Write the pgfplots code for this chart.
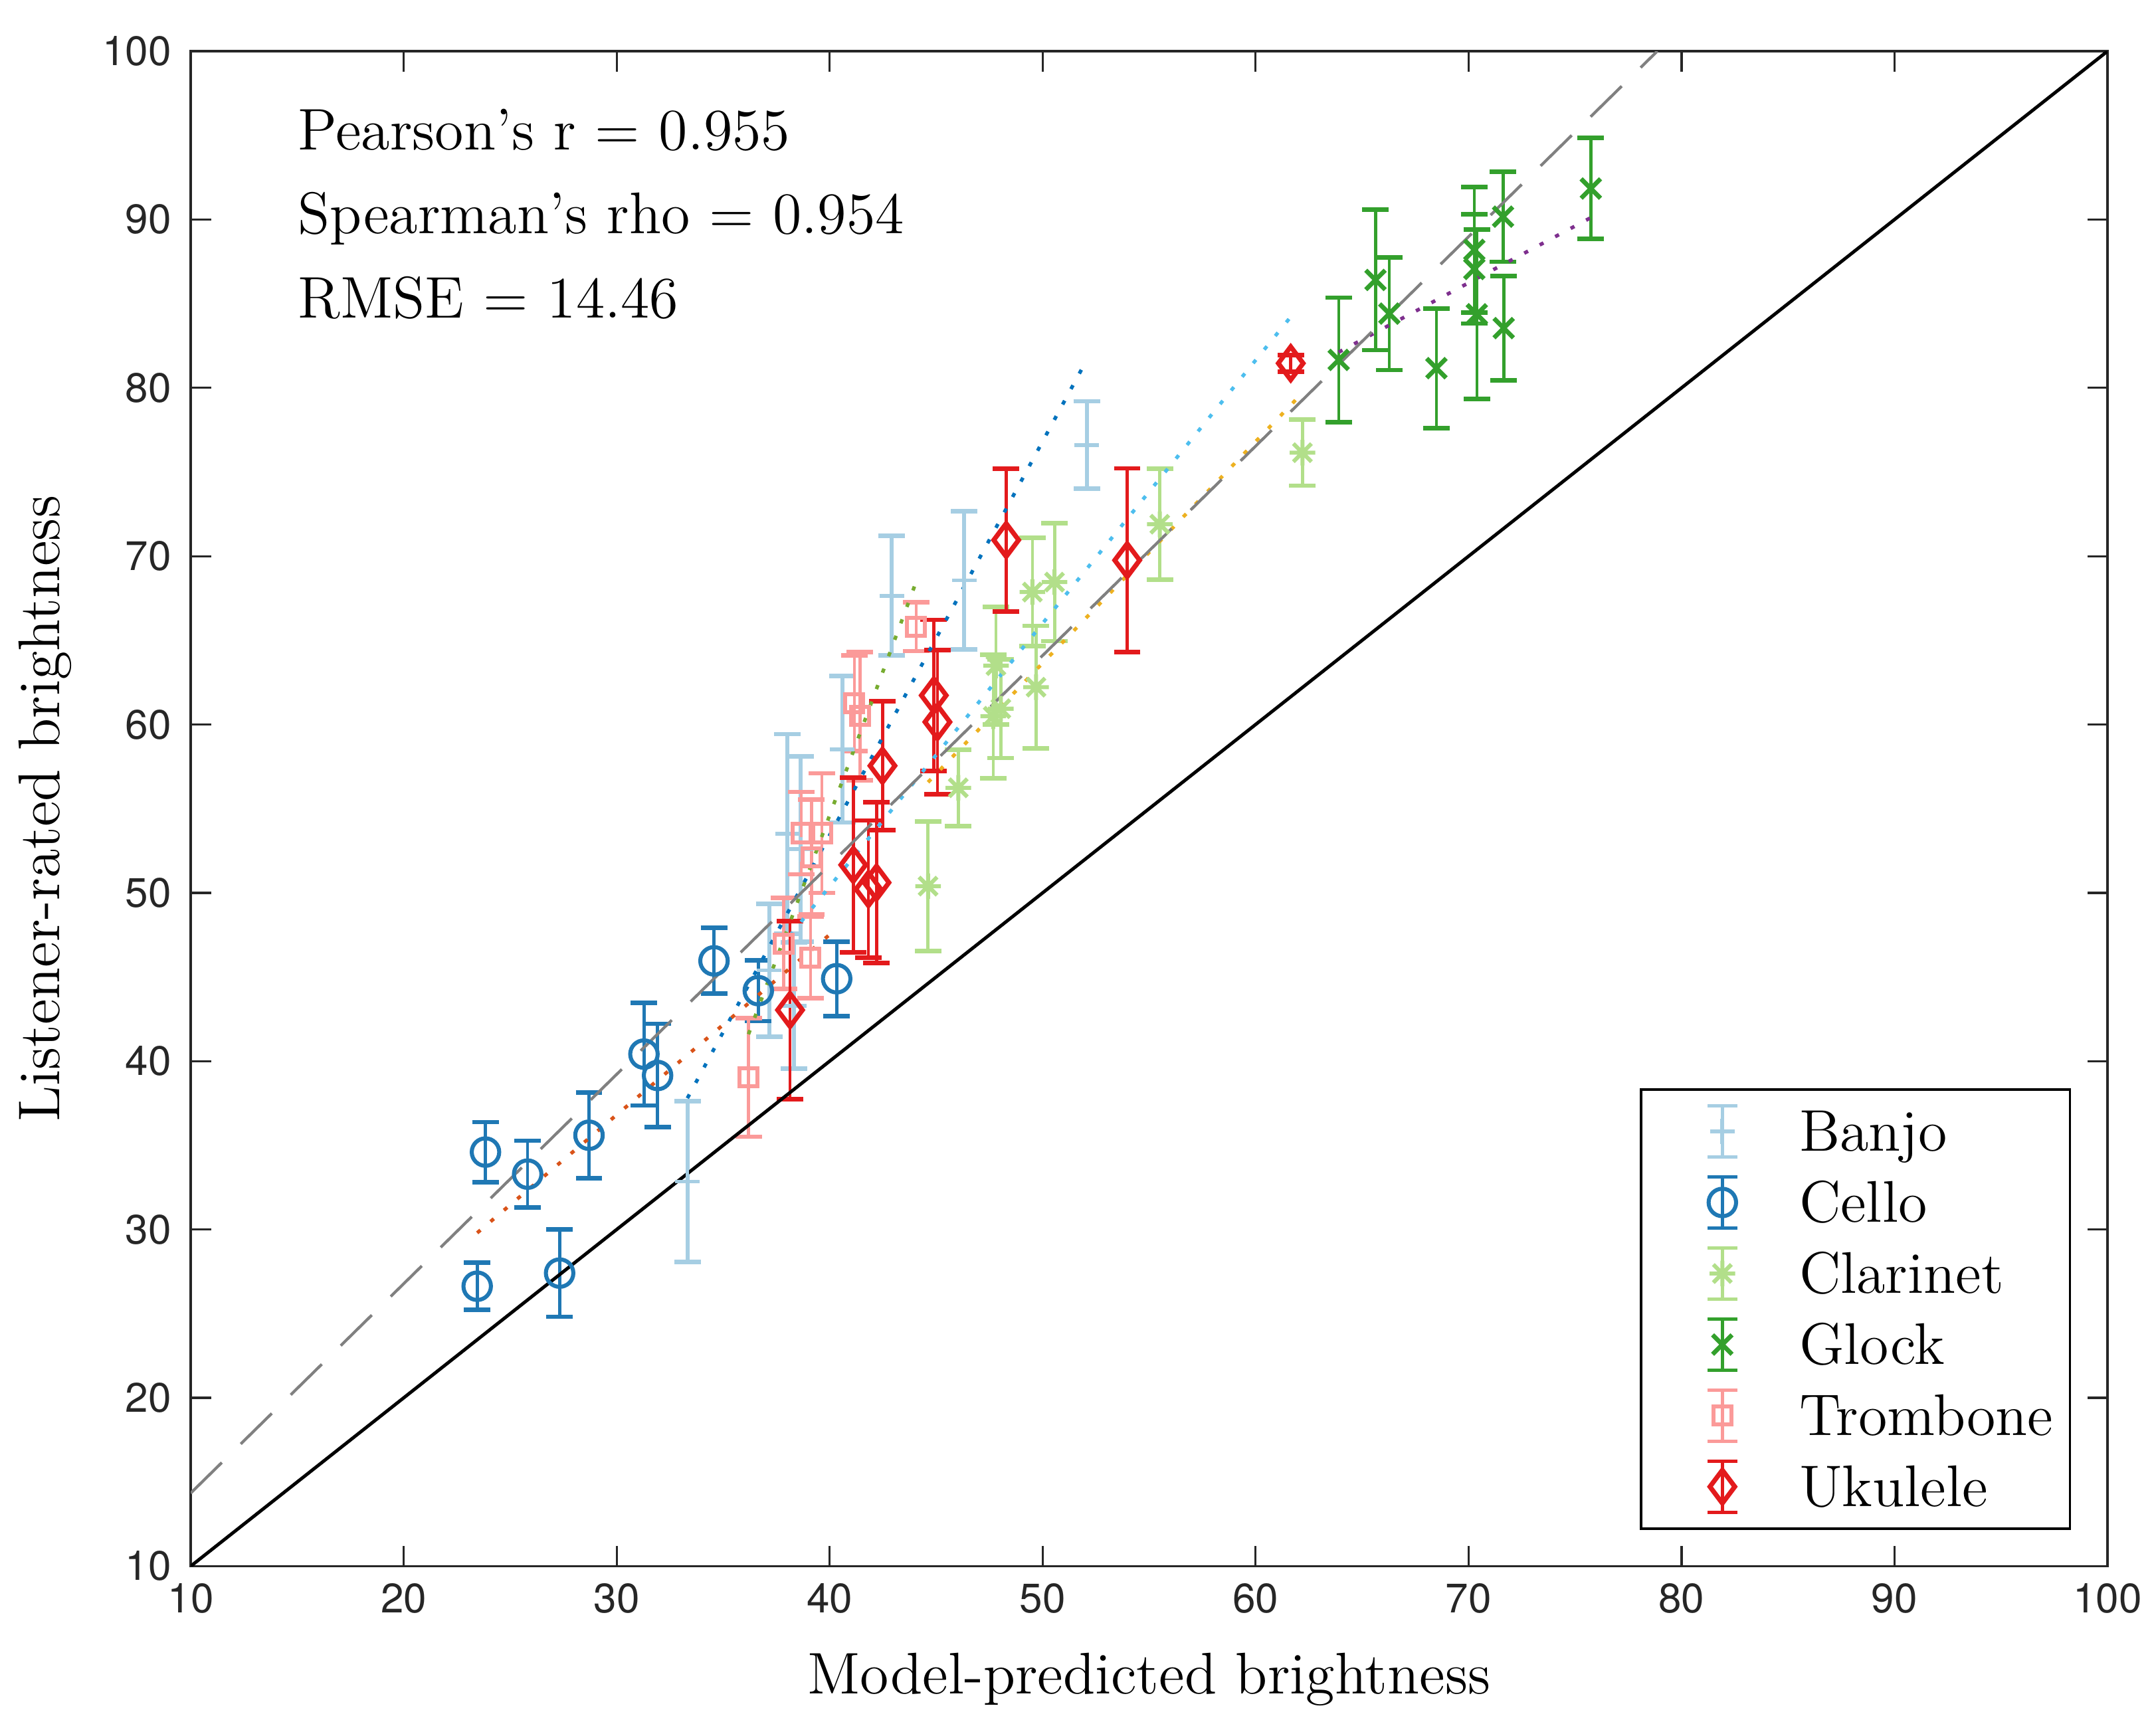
\documentclass[border=0pt]{standalone}
\usepackage{fontspec}
\usepackage{pgfplots}
\pgfplotsset{compat=1.18}
\newfontfamily\ticksfont{TeX Gyre Heros}

\definecolor{banjo}{HTML}{A6CEE3}
\definecolor{cello}{HTML}{1F78B4}
\definecolor{clarinet}{HTML}{B2DF8A}
\definecolor{glock}{HTML}{33A02C}
\definecolor{trombone}{HTML}{FB9A99}
\definecolor{ukulele}{HTML}{E31A1C}
\definecolor{fitA}{HTML}{0072BD}
\definecolor{fitB}{HTML}{D95319}
\definecolor{fitC}{HTML}{EDB120}
\definecolor{fitD}{HTML}{7E2F8E}
\definecolor{fitE}{HTML}{77AC30}
\definecolor{fitF}{HTML}{4DBEEE}
\definecolor{axgray}{HTML}{262626}

% matlab style asterisk: plus and cross together
\pgfdeclareplotmark{ast8}{%
  \pgfpathmoveto{\pgfqpoint{-\pgfplotmarksize}{0pt}}\pgfpathlineto{\pgfqpoint{\pgfplotmarksize}{0pt}}%
  \pgfpathmoveto{\pgfqpoint{0pt}{-\pgfplotmarksize}}\pgfpathlineto{\pgfqpoint{0pt}{\pgfplotmarksize}}%
  \pgfpathmoveto{\pgfqpoint{-.7071\pgfplotmarksize}{-.7071\pgfplotmarksize}}\pgfpathlineto{\pgfqpoint{.7071\pgfplotmarksize}{.7071\pgfplotmarksize}}%
  \pgfpathmoveto{\pgfqpoint{-.7071\pgfplotmarksize}{.7071\pgfplotmarksize}}\pgfpathlineto{\pgfqpoint{.7071\pgfplotmarksize}{-.7071\pgfplotmarksize}}%
  \pgfusepathqstroke}

\newcommand{\txt}{\fontsize{12.4}{14.8}\selectfont}

\pgfplotsset{
  errs/.style={only marks, color=#1,
    error bars/y dir=both, error bars/y explicit,
    error bars/error bar style={line width=0.65pt, solid, color=#1},
    error bars/error mark options={rotate=90, mark size=2.8pt, line width=0.95pt, color=#1}},
  errleg/.style={legend image code/.code={
      \path[draw=none] (0cm,0cm) (1.05cm,0cm);
      \draw[##1, mark=none, solid, line width=0.75pt] (0.55cm,-0.19cm) -- (0.55cm,0.19cm)
        (0.44cm,-0.19cm) -- (0.66cm,-0.19cm) (0.44cm,0.19cm) -- (0.66cm,0.19cm);
      \draw[##1, only marks] plot coordinates {(0.55cm,0cm)};
  }},
  fit/.style={color=#1, line width=0.75pt, dash pattern=on 0.9pt off 2.8pt, forget plot},
}

\begin{document}
\begin{tikzpicture}
\begin{axis}[
  scale only axis, width=14.22cm, height=11.24cm,
  xmin=10, xmax=100, ymin=10, ymax=100,
  xtick={10,20,...,100}, ytick={10,20,...,100},
  axis line style={axgray, line width=0.45pt},
  tick style={axgray, line width=0.45pt},
  major tick length=0.15cm,
  tick label style={font=\ticksfont\fontsize{8.7}{10}\selectfont, text=axgray},
  /pgf/number format/assume math mode=true,
  xticklabel style={anchor=north, inner sep=0pt, yshift=-0.12cm},
  yticklabel style={anchor=east, inner sep=0pt, xshift=-0.138cm},
  label style={font=\txt},
  xlabel={Model-predicted brightness},
  ylabel={Listener-rated brightness},
  xlabel style={at={(axis description cs:0.5,-0.08425)}, anchor=base},
  ylabel style={at={(axis description cs:-0.0759,0.5)}, anchor=center},
  legend style={at={(0.981,0.024)}, anchor=south east, draw=black, line width=0.5pt, fill=white,
    font=\txt, inner xsep=1.5pt, inner ysep=1.35pt, row sep=0pt,
    nodes={inner xsep=2pt, inner ysep=0pt, text height=11.6pt, text depth=3.4pt}},
  legend cell align=left,
]
\coordinate (bl) at (rel axis cs:0,0);
\coordinate (tr) at (rel axis cs:1,1);

% Banjo
\addplot[errs=banjo, mark=+, mark size=2.6pt, mark options={line width=0.8pt},
  error bars/error bar style={line width=0.85pt}, errleg]
  table[x=x, y=y, y error=e] {
x     y     e
33.32 32.85 4.77
37.16 45.40 3.95
38.02 53.50 5.93
38.64 52.60 5.50
38.33 43.30 3.75
40.60 58.53 4.35
42.92 67.65 3.55
46.32 68.57 4.10
52.07 76.60 2.60
};
% Cello
\addplot[errs=cello, mark=o, mark size=2.9pt, mark options={line width=0.85pt}, errleg]
  table[x=x, y=y, y error=e] {
x     y     e
23.45 26.63 1.40
23.84 34.60 1.78
25.82 33.29 1.99
27.32 27.41 2.59
28.70 35.60 2.55
31.28 40.42 3.05
31.92 39.15 3.07
34.57 45.96 1.95
36.65 44.19 1.81
40.33 44.90 2.21
};
% Clarinet
\addplot[errs=clarinet, mark=ast8, mark size=2.7pt, mark options={line width=0.85pt}, errleg]
  table[x=x, y=y, y error=e] {
x     y     e
44.62 50.40 3.85
46.04 56.24 2.27
47.68 60.49 3.67
47.81 63.50 3.50
48.04 60.94 2.93
49.52 67.87 3.22
49.69 62.22 3.64
50.56 68.46 3.50
55.50 71.90 3.30
62.20 76.15 1.96
};
% Glock
\addplot[errs=glock, mark=x, mark size=2.9pt, mark options={line width=0.95pt}, errleg]
  table[x=x, y=y, y error=e] {
x     y     e
63.90 81.66 3.70
65.63 86.41 4.17
66.28 84.41 3.35
68.49 81.17 3.55
70.27 88.20 3.72
70.27 87.06 3.24
70.39 84.37 5.03
71.62 90.17 2.68
71.65 83.55 3.10
75.74 91.84 3.00
};
% Trombone
\addplot[errs=trombone, mark=square, mark size=1.9pt, mark options={line width=0.85pt}, errleg]
  table[x=x, y=y, y error=e] {
x     y     e
36.19 39.03 3.52
37.85 46.99 2.70
38.67 53.55 2.45
39.15 52.12 3.42
39.64 53.55 3.55
39.10 46.16 2.43
41.16 61.27 2.85
41.42 60.50 3.80
44.06 65.81 1.45
};
% Ukulele
\addplot[errs=ukulele, mark=diamond, mark size=3.5pt, mark options={line width=1pt}, errleg]
  table[x=x, y=y, y error=e] {
x     y     e
38.14 43.04 5.29
41.11 51.66 5.20
41.82 50.22 4.08
42.20 50.61 4.77
42.48 57.55 3.82
44.89 61.73 4.49
45.06 60.15 4.28
48.29 70.96 4.25
53.97 69.76 5.46
61.65 81.46 0.50
};

% per-instrument fits
\addplot[fit=fitA] coordinates {(33.32,37.80) (52.07,81.66)};
\addplot[fit=fitB] coordinates {(23.45,29.80) (40.33,47.87)};
\addplot[fit=fitC] coordinates {(44.62,56.57) (62.20,79.70)};
\addplot[fit=fitD] coordinates {(63.90,82.12) (75.74,90.11)};
\addplot[fit=fitE] coordinates {(36.19,41.60) (44.06,68.47)};
\addplot[fit=fitF] coordinates {(38.14,47.47) (61.65,84.22)};
% overall fit and identity
\addplot[forget plot, color=gray, line width=0.6pt, dash pattern=on 9.2pt off 5.6pt] coordinates {(10,14.34) (78.86,100)};
\addplot[forget plot, color=black, line width=0.7pt] coordinates {(10,10) (100,100)};

\node[anchor=base west, inner sep=0pt, font=\txt] at (axis cs:15,94.15) {Pearson's r = 0.955};
\node[anchor=base west, inner sep=0pt, font=\txt] at (axis cs:15,89.15) {Spearman's rho = 0.954};
\node[anchor=base west, inner sep=0pt, font=\txt] at (axis cs:15,84.15) {RMSE = 14.46};

\legend{Banjo,Cello,Clarinet,Glock,Trombone,Ukulele}
\end{axis}
\pgfresetboundingbox
\path (bl) ++(-1.415cm,-1.183cm) rectangle ([xshift=0.36cm,yshift=0.38cm]tr);
\end{tikzpicture}
\end{document}
